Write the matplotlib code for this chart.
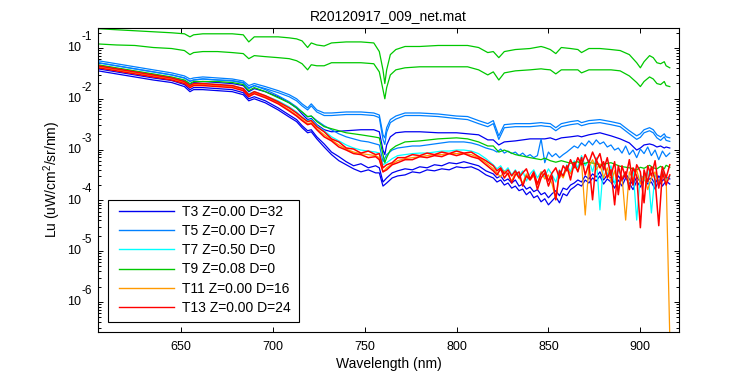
import numpy as np
import matplotlib
matplotlib.use("Agg")
import matplotlib.pyplot as plt
from matplotlib.ticker import LogLocator, NullFormatter, FixedLocator
from matplotlib.lines import Line2D
from matplotlib.patches import Rectangle
import matplotlib.transforms as mtransforms

plt.rcParams['font.family'] = ['Liberation Sans', 'DejaVu Sans']
plt.rcParams['mathtext.fontset'] = 'custom'
plt.rcParams['mathtext.rm'] = 'Liberation Sans'
plt.rcParams['mathtext.it'] = 'Liberation Sans'
plt.rcParams['mathtext.bf'] = 'Liberation Sans'

title = "R20120917_009_net.mat"
xlabel = "Wavelength (nm)"
ylabel = "Lu (uW/cm$^2$/sr/nm)"

legend_labels = ["T3 Z=0.00 D=32", "T5 Z=0.00 D=7", "T7 Z=0.50 D=0",
                 "T9 Z=0.08 D=0", "T11 Z=0.00 D=16", "T13 Z=0.00 D=24"]
group_colors = ["#0000F0", "#0080FF", "#00FFFF", "#00C800", "#FF9900", "#FF0000"]

x_ticks = [650, 700, 750, 800, 850, 900]
y_decades = [-6, -5, -4, -3, -2, -1]

# wavelength grid of the smoother spectra (nm)
wl_smooth = [605, 615, 625, 635, 645, 652, 655, 657, 662, 670,
             678, 684, 687, 690, 696, 703, 709, 713, 716, 719,
             721, 724, 728, 732, 740, 748, 755, 758, 760, 761,
             762, 764, 767, 772, 780, 790, 800, 806, 812, 817,
             820, 823, 826, 832, 840, 846, 848, 851, 854, 857,
             862, 866, 868, 872, 878, 884, 889, 894, 898, 900,
             902, 905, 907, 909, 911, 913, 914, 916]

# wavelength grid of the noisy spectra (nm)
wl_noisy = [605, 615, 625, 635, 645, 652, 655, 657, 662, 670,
            678, 684, 687, 690, 696, 703, 709, 713, 716, 719,
            721, 724, 728, 732, 736, 740, 744, 748, 752, 756,
            758, 760, 762, 765, 768, 772, 776, 780, 784, 788,
            792, 796, 800, 804, 808, 812, 816] + list(range(820, 917, 2))

# ---- log10(Lu) values, smooth spectra ----
t9_a_log = [-0.62, -0.64, -0.66, -0.68, -0.70, -0.72, -0.78, -0.74, -0.72, -0.72,
            -0.72, -0.74, -0.88, -0.78, -0.78, -0.78, -0.80, -0.82, -0.86, -0.99,
            -0.90, -0.94, -0.96, -0.90, -0.88, -0.88, -0.90, -1.07, -1.43, -1.70,
            -1.43, -1.13, -1.03, -0.97, -0.97, -0.95, -0.95, -0.95, -0.99, -1.09,
            -1.07, -1.19, -1.07, -1.03, -1.01, -0.97, -0.99, -1.03, -1.11, -0.99,
            -1.01, -1.03, -1.09, -1.01, -1.01, -1.03, -1.05, -1.13, -1.29, -1.39,
            -1.27, -1.15, -1.19, -1.29, -1.31, -1.27, -1.35, -1.39]
t9_b_log = [-0.92, -0.94, -0.95, -0.99, -1.01, -1.05, -1.13, -1.09, -1.07, -1.07,
            -1.09, -1.11, -1.21, -1.15, -1.17, -1.19, -1.21, -1.25, -1.31, -1.43,
            -1.33, -1.35, -1.35, -1.29, -1.29, -1.29, -1.31, -1.47, -1.82, -2.00,
            -1.78, -1.53, -1.43, -1.39, -1.37, -1.37, -1.37, -1.37, -1.43, -1.53,
            -1.47, -1.63, -1.49, -1.45, -1.43, -1.41, -1.42, -1.43, -1.51, -1.43,
            -1.43, -1.43, -1.49, -1.43, -1.43, -1.43, -1.45, -1.55, -1.68, -1.76,
            -1.66, -1.57, -1.61, -1.70, -1.72, -1.66, -1.74, -1.76]
t9_c_log = [-1.33, -1.39, -1.45, -1.51, -1.57, -1.63, -1.70, -1.66, -1.66, -1.66,
            -1.68, -1.72, -1.84, -1.78, -1.86, -1.98, -2.08, -2.18, -2.26, -2.35,
            -2.34, -2.45, -2.55, -2.59, -2.67, -2.71, -2.75, -2.77, -3.10, -3.26,
            -3.16, -3.01, -2.93, -2.85, -2.83, -2.79, -2.77, -2.79, -2.85, -2.93,
            -2.93, -3.05, -3.01, -3.10, -3.16, -3.20, -3.17, -3.22, -3.25, -3.22,
            -3.27, -3.24, -3.29, -3.25, -3.30, -3.26, -3.33, -3.36, -3.40, -3.35,
            -3.37, -3.31, -3.36, -3.38, -3.33, -3.38, -3.31, -3.35]
t5_a_log = [-1.25, -1.31, -1.37, -1.43, -1.49, -1.55, -1.61, -1.59, -1.57, -1.59,
            -1.61, -1.65, -1.74, -1.70, -1.76, -1.84, -1.92, -2.00, -2.10, -2.18,
            -2.10, -2.22, -2.28, -2.28, -2.26, -2.26, -2.28, -2.32, -2.71, -2.77,
            -2.57, -2.41, -2.34, -2.28, -2.28, -2.30, -2.34, -2.35, -2.43, -2.49,
            -2.43, -2.73, -2.51, -2.49, -2.49, -2.47, -2.48, -2.49, -2.57, -2.49,
            -2.45, -2.43, -2.47, -2.43, -2.41, -2.45, -2.49, -2.63, -2.73, -2.69,
            -2.61, -2.57, -2.61, -2.71, -2.75, -2.69, -2.75, -2.77]
t5_b_log = [-1.29, -1.35, -1.41, -1.47, -1.53, -1.59, -1.65, -1.63, -1.61, -1.63,
            -1.65, -1.69, -1.78, -1.74, -1.80, -1.88, -1.96, -2.04, -2.14, -2.22,
            -2.14, -2.26, -2.33, -2.33, -2.31, -2.31, -2.33, -2.37, -2.80, -2.90,
            -2.66, -2.47, -2.40, -2.33, -2.33, -2.35, -2.39, -2.41, -2.49, -2.55,
            -2.49, -2.80, -2.57, -2.55, -2.55, -2.53, -2.54, -2.55, -2.63, -2.55,
            -2.51, -2.49, -2.53, -2.49, -2.47, -2.51, -2.55, -2.69, -2.80, -2.76,
            -2.67, -2.63, -2.67, -2.77, -2.82, -2.75, -2.82, -2.84]
t3_a_log = [-1.35, -1.41, -1.47, -1.53, -1.59, -1.65, -1.72, -1.68, -1.66, -1.68,
            -1.70, -1.74, -1.86, -1.80, -1.86, -1.96, -2.08, -2.18, -2.30, -2.41,
            -2.39, -2.51, -2.61, -2.65, -2.63, -2.61, -2.61, -2.65, -3.01, -3.10,
            -2.91, -2.75, -2.67, -2.65, -2.65, -2.67, -2.67, -2.69, -2.71, -2.81,
            -2.81, -2.91, -2.85, -2.83, -2.79, -2.79, -2.79, -2.77, -2.81, -2.77,
            -2.75, -2.73, -2.75, -2.71, -2.67, -2.73, -2.79, -2.87, -3.01, -2.97,
            -2.91, -2.89, -2.91, -2.95, -2.93, -2.97, -2.95, -2.97]

# ---- log10(Lu) values, noisy spectra ----
t3_b_log = [-1.41, -1.47, -1.53, -1.59, -1.64, -1.72, -1.82, -1.78, -1.78, -1.80,
            -1.82, -1.88, -2.00, -1.96, -2.04, -2.18, -2.32, -2.41, -2.53, -2.63,
            -2.61, -2.75, -2.89, -3.05, -3.14, -3.24, -3.32, -3.28, -3.36, -3.32,
            -3.36, -3.64, -3.56, -3.46, -3.42, -3.38, -3.40, -3.34, -3.36, -3.30,
            -3.32, -3.26, -3.28, -3.24, -3.28, -3.32, -3.42,
            -3.48, -3.56, -3.52, -3.62, -3.58, -3.66, -3.60, -3.72, -3.68, -3.78,
            -3.74, -3.83, -3.79, -3.89, -3.85, -3.95, -3.87, -3.81, -3.91, -3.76,
            -3.79, -3.70, -3.66, -3.60, -3.64, -3.52, -3.58, -3.48, -3.54, -3.44,
            -3.60, -3.50, -3.56, -3.66, -3.52, -3.62, -3.48, -3.58, -3.70, -3.54,
            -3.64, -3.50, -3.60, -3.56, -3.68, -3.52, -3.62, -3.54, -3.58]
t3_c_log = [-1.45, -1.51, -1.57, -1.63, -1.68, -1.76, -1.86, -1.82, -1.82, -1.84,
            -1.86, -1.92, -2.04, -2.00, -2.08, -2.22, -2.36, -2.45, -2.57, -2.67,
            -2.65, -2.79, -2.95, -3.10, -3.22, -3.30, -3.38, -3.44, -3.40, -3.46,
            -3.46, -3.72, -3.66, -3.56, -3.52, -3.50, -3.44, -3.46, -3.40, -3.42,
            -3.38, -3.40, -3.34, -3.36, -3.34, -3.40, -3.50,
            -3.56, -3.64, -3.60, -3.70, -3.66, -3.76, -3.72, -3.81, -3.78, -3.89,
            -3.83, -3.95, -3.91, -4.03, -3.97, -4.09, -4.01, -3.93, -4.05, -3.87,
            -3.91, -3.79, -3.74, -3.68, -3.72, -3.60, -3.66, -3.56, -3.62, -3.52,
            -3.68, -3.58, -3.64, -3.76, -3.60, -3.72, -3.56, -3.66, -3.79, -3.62,
            -3.74, -3.58, -3.68, -3.64, -3.78, -3.60, -3.72, -3.62, -3.68]
t5_c_log = [-1.29, -1.35, -1.41, -1.47, -1.53, -1.59, -1.66, -1.63, -1.61, -1.63,
            -1.64, -1.68, -1.80, -1.74, -1.82, -1.94, -2.06, -2.16, -2.26, -2.36,
            -2.34, -2.43, -2.53, -2.61, -2.69, -2.75, -2.79, -2.83, -2.85, -2.89,
            -2.91, -3.24, -3.10, -3.01, -2.97, -2.95, -2.93, -2.93, -2.91, -2.89,
            -2.87, -2.85, -2.85, -2.85, -2.87, -2.91, -2.97,
            -3.01, -3.05, -2.99, -3.07, -3.03, -3.08, -3.05, -3.12, -3.07, -3.14,
            -3.10, -3.16, -3.12, -2.79, -3.26, -3.05, -3.14, -3.08, -3.16, -3.10,
            -3.05, -2.99, -2.93, -2.97, -2.87, -2.93, -2.83, -2.91, -2.81, -2.89,
            -2.85, -2.95, -2.91, -3.01, -2.97, -3.07, -2.93, -3.10, -3.01, -3.16,
            -2.99, -3.08, -2.95, -3.12, -3.01, -3.20, -3.03, -3.14, -3.07]
t7_log = [-1.35, -1.41, -1.47, -1.53, -1.59, -1.66, -1.74, -1.70, -1.70, -1.72,
          -1.74, -1.80, -1.90, -1.86, -1.94, -2.04, -2.16, -2.26, -2.36, -2.43,
          -2.41, -2.53, -2.63, -2.75, -2.83, -2.91, -2.97, -3.01, -3.03, -3.05,
          -3.07, -3.30, -3.26, -3.18, -3.12, -3.10, -3.08, -3.07, -3.07, -3.05,
          -3.03, -3.03, -3.01, -3.01, -3.03, -3.08, -3.18,
          -3.30, -3.38, -3.32, -3.44, -3.36, -3.50, -3.40, -3.52, -3.42, -3.62,
          -3.48, -3.40, -3.56, -3.44, -3.54, -3.38, -3.50, -3.64, -3.40, -3.52,
          -3.30, -3.44, -3.22, -3.36, -3.12, -3.32, -3.20, -3.44, -3.16, -4.19,
          -3.26, -3.50, -3.32, -3.68, -3.40, -3.56, -3.46, -3.76, -3.38, -4.39,
          -3.50, -3.62, -3.40, -4.25, -3.48, -3.66, -3.42, -3.60, -3.52]
t11_log = [-1.37, -1.43, -1.49, -1.55, -1.61, -1.68, -1.76, -1.72, -1.72, -1.74,
           -1.76, -1.82, -1.94, -1.88, -1.96, -2.08, -2.22, -2.32, -2.41, -2.49,
           -2.47, -2.59, -2.71, -2.81, -2.91, -2.99, -3.05, -3.08, -3.10, -3.12,
           -3.16, -3.44, -3.36, -3.28, -3.22, -3.18, -3.16, -3.14, -3.12, -3.10,
           -3.10, -3.08, -3.08, -3.08, -3.10, -3.16, -3.26,
           -3.38, -3.46, -3.54, -3.42, -3.50, -3.62, -3.46, -3.56, -3.66, -3.48,
           -3.60, -3.52, -3.70, -3.44, -3.58, -3.50, -3.68, -3.99, -3.46, -3.56,
           -3.36, -3.48, -3.32, -3.42, -3.24, -4.29, -3.34, -3.20, -3.40, -3.28,
           -3.56, -3.36, -3.64, -3.42, -3.78, -3.52, -4.39, -3.44, -3.60, -3.40,
           -3.68, -3.50, -3.79, -3.56, -3.44, -3.70, -3.52, -3.50, -6.70]
t13_a_log = [-1.35, -1.41, -1.47, -1.53, -1.59, -1.66, -1.74, -1.70, -1.70, -1.72,
             -1.74, -1.80, -1.92, -1.86, -1.94, -2.06, -2.18, -2.28, -2.37, -2.45,
             -2.43, -2.55, -2.65, -2.79, -2.85, -2.97, -2.99, -3.07, -3.03, -3.10,
             -3.08, -3.36, -3.30, -3.26, -3.16, -3.16, -3.10, -3.12, -3.07, -3.10,
             -3.05, -3.08, -3.03, -3.07, -3.05, -3.14, -3.22,
             -3.32, -3.42, -3.36, -3.48, -3.40, -3.52, -3.42, -3.56, -3.46, -3.38,
             -3.58, -3.44, -3.68, -3.48, -3.40, -3.62, -3.46, -3.36, -3.56, -3.32,
             -3.42, -3.20, -3.36, -3.16, -3.30, -3.10, -3.26, -3.05, -3.22, -3.08,
             -3.40, -3.16, -3.52, -3.24, -3.89, -3.32, -3.56, -3.20, -3.70, -3.30,
             -3.44, -4.05, -3.32, -3.52, -3.22, -3.76, -3.34, -3.56, -3.30]
t13_b_log = [-1.39, -1.45, -1.51, -1.57, -1.63, -1.70, -1.78, -1.74, -1.74, -1.76,
             -1.78, -1.84, -1.96, -1.90, -1.98, -2.10, -2.24, -2.34, -2.43, -2.51,
             -2.49, -2.61, -2.75, -2.83, -2.95, -3.01, -3.08, -3.10, -3.16, -3.14,
             -3.20, -3.44, -3.40, -3.30, -3.26, -3.20, -3.20, -3.14, -3.16, -3.12,
             -3.14, -3.08, -3.12, -3.08, -3.14, -3.18, -3.30,
             -3.42, -3.50, -3.38, -3.56, -3.46, -3.66, -3.50, -3.44, -3.72, -3.52,
             -3.60, -3.48, -3.79, -3.56, -3.46, -3.72, -3.52, -3.99, -3.42, -3.52,
             -3.32, -3.60, -3.26, -3.44, -3.16, -3.50, -3.28, -3.99, -3.20, -3.36,
             -3.24, -3.56, -3.40, -4.09, -3.32, -3.60, -3.44, -3.79, -3.36, -3.52,
             -4.54, -3.40, -3.64, -3.34, -3.60, -4.50, -3.44, -3.70, -3.50]

# (wavelength grid, log10 values, legend group index) in drawing order
series = [
    (wl_smooth, t3_a_log, 0), (wl_noisy, t3_b_log, 0), (wl_noisy, t3_c_log, 0),
    (wl_smooth, t5_a_log, 1), (wl_smooth, t5_b_log, 1), (wl_noisy, t5_c_log, 1),
    (wl_noisy, t7_log, 2),
    (wl_smooth, t9_a_log, 3), (wl_smooth, t9_b_log, 3), (wl_smooth, t9_c_log, 3),
    (wl_noisy, t11_log, 4),
    (wl_noisy, t13_a_log, 5), (wl_noisy, t13_b_log, 5),
]

fig = plt.figure(figsize=(7.5, 3.75), dpi=100)
ax = fig.add_axes([0.1307, 0.116, 0.7746, 0.8093])

for wl, vals, g in series:
    ax.plot(wl, 10 ** np.array(vals), color=group_colors[g],
            lw=1.1 if g == 5 else 0.9)

ax.set_yscale('log')
ax.set_xlim(605, 921)
ax.set_ylim(10 ** -6.585, 10 ** -0.606)

ax.xaxis.set_major_locator(FixedLocator(x_ticks))
ax.yaxis.set_major_locator(FixedLocator([10.0 ** d for d in y_decades]))
ax.yaxis.set_minor_locator(LogLocator(base=10, subs=np.arange(2, 10), numticks=20))
ax.yaxis.set_minor_formatter(NullFormatter())

ax.tick_params(which='both', direction='in', top=True, right=True,
               width=0.7, colors='black')
ax.tick_params(axis='x', labelsize=9, pad=7)
ax.tick_params(axis='y', labelleft=False)
ax.tick_params(which='major', length=3.6)
ax.tick_params(which='minor', length=2)
for s in ax.spines.values():
    s.set_linewidth(0.8)

# MATLAB-style decade labels: "10" with a raised exponent
ytrans = mtransforms.blended_transform_factory(ax.transAxes, ax.transData)
for d in y_decades:
    ax.annotate("10", xy=(0, 10.0 ** d), xycoords=ytrans,
                xytext=(-12.2, -0.3), textcoords='offset points',
                ha='right', va='center', fontsize=9)
    ax.annotate(str(d), xy=(0, 10.0 ** d), xycoords=ytrans,
                xytext=(-12.2, 7.9), textcoords='offset points',
                ha='left', va='center', fontsize=8.5)

ax.set_title(title, fontsize=10, pad=6)
ax.set_xlabel(xlabel, fontsize=10, labelpad=3)
ax.set_ylabel(ylabel, fontsize=10)
ax.yaxis.label.set_va('center')
ax.yaxis.set_label_coords(-0.079, 0.5)

# legend box
ax.add_patch(Rectangle((0.0172, 0.0313), 0.3287, 0.402, transform=ax.transAxes,
                       facecolor='white', edgecolor='black', lw=0.8, zorder=5))
handles = [Line2D([0], [0], color=c, lw=1.0) for c in group_colors]
leg = ax.legend(handles, legend_labels, loc='upper left',
                bbox_to_anchor=(0.0361, 0.4168), borderaxespad=0,
                fontsize=10, handlelength=3.96, handletextpad=0.55,
                labelspacing=0.37, borderpad=0, frameon=False)
leg.set_zorder(6)

fig.savefig('out.png', dpi=100)
